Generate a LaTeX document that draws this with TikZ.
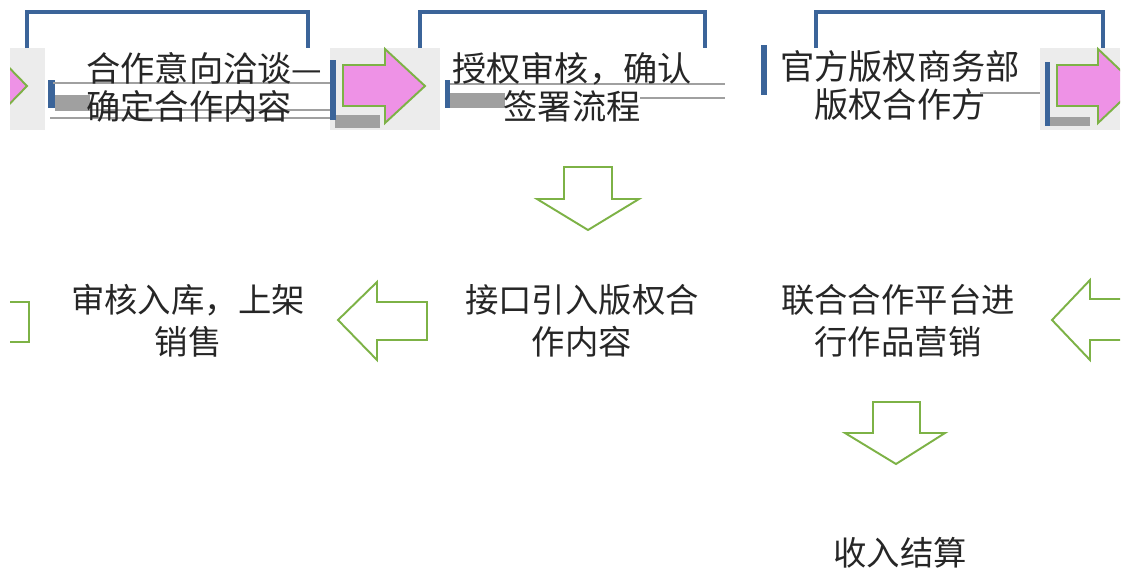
\documentclass[tikz,border=0pt]{standalone}
\usepackage{fontspec}
\usepackage{xcolor}
\usepackage{tikz}
\newfontfamily\cjk{Noto Sans CJK SC}
\definecolor{boxblue}{RGB}{59,100,153}
\definecolor{arrowgreen}{RGB}{125,178,70}
\definecolor{arrowpink}{RGB}{238,146,230}
\definecolor{bandgray}{RGB}{236,236,236}
\definecolor{bargray}{RGB}{160,160,160}

\begin{document}
\begin{tikzpicture}[x=0.02cm, y=-0.02cm,
    toptxt/.style={font=\cjk\fontsize{19.5}{21.6}\selectfont, inner sep=0, text=black!85},
    midtxt/.style={font=\cjk\fontsize{19}{24}\selectfont, align=center, inner sep=0, text=black!85},
    blockarr/.style={draw=arrowgreen, line width=1.1pt, fill=white, line join=miter},
    pinkarr/.style={blockarr, fill=arrowpink},
    bluebox/.style={draw=boxblue, line width=2.3pt}]
    \useasboundingbox (0,0) rectangle (1126,572);
    \clip (10,0) rectangle (1120,572);

    % Top row: band and boxes
    \fill[bandgray] (10,48) rectangle (45,130); \fill[bandgray] (330,48) rectangle (440,130); \fill[bandgray] (1040,48) rectangle (1120,130);
    \draw[bluebox] (27,48) -- (27,12) -- (308,12) -- (308,48);
    \draw[bluebox] (420,48) -- (420,12) -- (705,12) -- (705,48);
    \draw[bluebox] (816,48) -- (816,12) -- (1103,12) -- (1103,48);
    \fill[white] (45,48) rectangle (330,130); \fill[white] (440,48) rectangle (1040,130);
    \fill[bargray] (55,95) rectangle (90,110); \fill[bargray] (450,93) rectangle (505,108); \fill[bargray] (335,115) rectangle (380,128); \fill[bargray] (1048,117) rectangle (1090,126);
    \fill[boxblue] (48,80) rectangle (55,108); \fill[boxblue] (445,80) rectangle (450,108); \fill[boxblue] (330,60) rectangle (336,120);
    \fill[boxblue] (761,45) rectangle (767,95); \fill[boxblue] (1045,62) rectangle (1050,126);
    \draw[bargray, line width=0.8pt] (53,83) -- (330,83); \draw[bargray, line width=0.8pt] (55,110) -- (330,110); \draw[bargray, line width=0.8pt] (50,118) -- (330,118);
    \draw[bargray, line width=0.8pt] (450,84) -- (725,84); \draw[bargray, line width=0.8pt] (640,98) -- (725,98); \draw[bargray, line width=0.8pt] (980,93) -- (1040,93);

    % Top row: pink arrows
    \draw[pinkarr] (-40,65) -- (-10,65) -- (-10,48) -- (27,86) -- (-10,124) -- (-10,106) -- (-40,106) -- cycle;
    \draw[pinkarr] (343,65) -- (385,65) -- (385,49) -- (425,86) -- (385,123) -- (385,106) -- (343,106) -- cycle;
    \draw[pinkarr] (1057,65) -- (1098,65) -- (1098,49) -- (1137,86) -- (1098,123) -- (1098,106) -- (1057,106) -- cycle;

    % Top row: texts
    \node[toptxt, align=left, anchor=west] (talk) at (86,87) {合作意向洽谈—\\确定合作内容};
    \node[toptxt, align=center] (sign) at (572,87) {授权审核，确认\\签署流程};
    \node[toptxt, align=center] (partner) at (900,85) {官方版权商务部\\版权合作方};

    % Middle row
    \node[midtxt] (shelf) at (188,321) {审核入库，上架\\销售};
    \node[midtxt] (import) at (582,321) {接口引入版权合\\作内容};
    \node[midtxt] (market) at (898,321) {联合合作平台进\\行作品营销};
    \node[midtxt] (income) at (900,553) {收入结算};

    % Block arrows
    \draw[blockarr] (564,167) -- (612,167) -- (612,199) -- (639,199) -- (588,230) -- (537,199) -- (564,199) -- cycle;
    \draw[blockarr] (873,402) -- (920,402) -- (920,433) -- (945,433) -- (896,464) -- (845,433) -- (873,433) -- cycle;
    \draw[blockarr] (427,302) -- (377,302) -- (377,282) -- (338,320) -- (377,360) -- (377,340) -- (427,340) -- cycle;
    \draw[blockarr] (1140,299) -- (1090,299) -- (1090,280) -- (1052,320) -- (1090,360) -- (1090,340) -- (1140,340) -- cycle;
    \draw[blockarr] (-20,302) -- (29,302) -- (29,342) -- (-20,342);
\end{tikzpicture}
\end{document}
